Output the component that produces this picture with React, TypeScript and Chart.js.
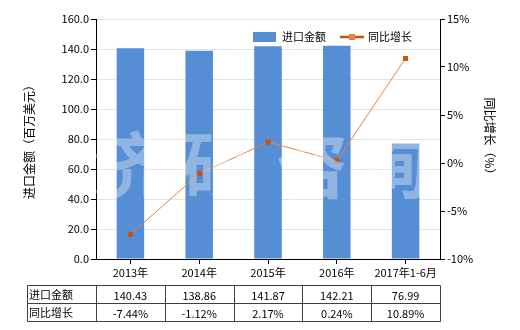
import React, { useEffect, useRef } from "react";
import { Chart, registerables } from "chart.js";

Chart.register(...registerables);

const categories = ["2013年", "2014年", "2015年", "2016年", "2017年1-6月"];
const importValues = [140.43, 138.86, 141.87, 142.21, 76.99];
const growthValues = [-7.44, -1.12, 2.17, 0.24, 10.89];
const importLabel = "进口金额";
const growthLabel = "同比增长";
const leftTitle = "进口金额（百万美元）";
const rightTitle = "同比增长（%）";
const watermark = ["济", "研", "咨", "询"];

const FONT = '"Noto Sans CJK SC", "DejaVu Sans", sans-serif';
const BAR = "#558ED5";
const LINE = "#E8823A";
const MARK = "#C8510E";

const customPlugin = {
  id: "custom",
  afterDatasetsDraw(chart: any) {
    const ctx = chart.ctx;
    const xs = chart.scales.x;
    ctx.save();
    // watermark
    ctx.fillStyle = "rgba(255,255,255,0.35)";
    ctx.font = `bold 72px ${FONT}`;
    ctx.textAlign = "center";
    ctx.textBaseline = "middle";
    const wx = [128, 218, 312, 394];
    watermark.forEach((c, i) => ctx.fillText(c, wx[i], 165));
    ctx.restore();
  },
  afterDraw(chart: any) {
    const ctx = chart.ctx;
    const xs = chart.scales.x;
    const area = chart.chartArea;
    ctx.save();
    // legend
    ctx.fillStyle = BAR;
    ctx.fillRect(253, 32, 23, 10);
    ctx.font = `11px ${FONT}`;
    ctx.fillStyle = "#000";
    ctx.textBaseline = "middle";
    ctx.textAlign = "left";
    ctx.fillText(importLabel, 282, 37);
    ctx.strokeStyle = MARK;
    ctx.lineWidth = 2.5;
    ctx.beginPath();
    ctx.moveTo(340, 37);
    ctx.lineTo(364, 37);
    ctx.stroke();
    ctx.fillStyle = "#E0803A";
    ctx.fillRect(349, 34, 6, 6);
    ctx.fillStyle = "#000";
    ctx.fillText(growthLabel, 368, 37);

    // table
    const n = categories.length;
    const step = xs.getPixelForValue(1) - xs.getPixelForValue(0);
    const tLeft = 27.5;
    const top = 285.5, mid = 303.5, bot = 321.5;
    const right = Math.round(xs.getPixelForValue(n - 1) + step / 2) + 0.5;
    ctx.strokeStyle = "#404040";
    ctx.lineWidth = 1;
    ctx.beginPath();
    ctx.moveTo(tLeft, top); ctx.lineTo(right, top);
    ctx.moveTo(tLeft, mid); ctx.lineTo(right, mid);
    ctx.moveTo(tLeft, bot); ctx.lineTo(right, bot);
    ctx.moveTo(tLeft, top); ctx.lineTo(tLeft, bot);
    for (let i = 0; i <= n; i++) {
      const bx = Math.round(xs.getPixelForValue(i) - step / 2) + 0.5;
      ctx.moveTo(bx, top); ctx.lineTo(bx, bot);
    }
    ctx.stroke();
    ctx.fillStyle = "#000";
    ctx.font = `11px ${FONT}`;
    ctx.textAlign = "left";
    ctx.fillText(importLabel, 29, (top + mid) / 2);
    ctx.fillText(growthLabel, 29, (mid + bot) / 2);
    ctx.textAlign = "center";
    for (let i = 0; i < n; i++) {
      const cx = xs.getPixelForValue(i);
      ctx.fillText(importValues[i].toFixed(2), cx, (top + mid) / 2 + 1);
      ctx.fillText(growthValues[i].toFixed(2) + "%", cx, (mid + bot) / 2 + 1);
    }
    ctx.restore();
  },
};

export default function App() {
  const ref = useRef<HTMLCanvasElement>(null);
  useEffect(() => {
    document.body.style.margin = "0";
    const chart = new Chart(ref.current!, {
      type: "bar",
      data: {
        labels: categories,
        datasets: [
          {
            type: "line",
            label: growthLabel,
            data: growthValues,
            yAxisID: "y1",
            borderColor: LINE,
            borderWidth: 1,
            pointStyle: "rect",
            pointRadius: 3.5,
            pointBackgroundColor: MARK,
            pointBorderColor: MARK,
            pointBorderWidth: 0,
            order: 0,
          } as any,
          {
            type: "bar",
            label: importLabel,
            data: importValues,
            yAxisID: "y",
            backgroundColor: BAR,
            barPercentage: 0.4,
            categoryPercentage: 1,
            order: 1,
          },
        ],
      },
      options: {
        animation: false,
        responsive: false,
        maintainAspectRatio: false,
        layout: { padding: { left: 0, right: 0, top: 19, bottom: 0 } },
        plugins: { legend: { display: false }, tooltip: { enabled: false } },
        scales: {
          x: {
            grid: { drawOnChartArea: false, offset: false, tickLength: 5, tickColor: "#000" },
            border: { color: "#000" },
            ticks: { color: "#000", font: { family: FONT, size: 11 }, maxRotation: 0, padding: 2 },
            afterFit: (s: any) => { s.height = 71; },
          },
          y: {
            position: "left",
            min: 0,
            max: 160,
            ticks: {
              stepSize: 20,
              color: "#000",
              font: { family: FONT, size: 11 },
              padding: 2,
              callback: (v: any) => Number(v).toFixed(1),
            },
            grid: { color: "#E4E4DC", tickLength: 5, tickColor: "#000" },
            border: { color: "#000" },
            title: { display: true, text: leftTitle, color: "#000", font: { family: FONT, size: 12 }, padding: { top: 22, bottom: 0 } },
            afterFit: (s: any) => { s.width = 96; },
          },
          y1: {
            position: "right",
            min: -10,
            max: 15,
            ticks: {
              stepSize: 5,
              color: "#000",
              font: { family: FONT, size: 11 },
              padding: 2,
              callback: (v: any) => v + "%",
            },
            grid: { drawOnChartArea: false, tickLength: 5, tickColor: "#000" },
            border: { color: "#000" },
            title: { display: true, text: rightTitle, color: "#000", font: { family: FONT, size: 12 }, padding: { top: 23, bottom: 0 } },
            afterFit: (s: any) => { s.width = 80; },
          },
        },
      },
      plugins: [customPlugin],
    });
    return () => chart.destroy();
  }, []);
  return (
    <div style={{ position: "absolute", left: 0, top: 0, width: 520, height: 330, background: "#fff" }}>
      <canvas ref={ref} width={520} height={330} style={{ width: 520, height: 330 }} />
    </div>
  );
}
